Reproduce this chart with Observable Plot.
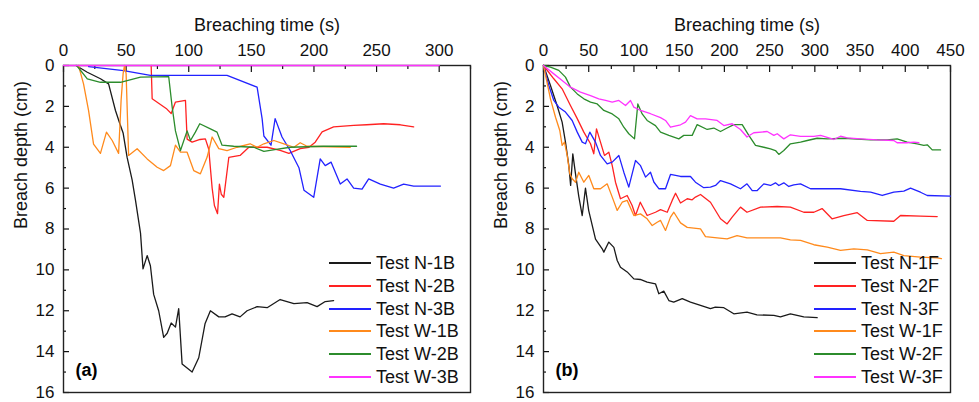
<!DOCTYPE html>
<html>
<head>
<meta charset="utf-8">
<script src="https://cdn.jsdelivr.net/npm/d3@7"></script>
<script src="https://cdn.jsdelivr.net/npm/@observablehq/plot@0.6"></script>
<style>
  html, body { margin: 0; padding: 0; background: #fff; }
  #wrap { position: relative; width: 979px; height: 402px; font-family: "Liberation Sans", Arial, sans-serif; }
  .panel { position: absolute; top: 0; }
  .leg { position: absolute; display: flex; align-items: center; height: 22px; font-size: 18px; color: #111; white-space: nowrap; }
  .leg span.sw { display: inline-block; width: 42px; height: 2px; margin-right: 5px; }
</style>
</head>
<body>
<div id="wrap"></div>
<script>
// ---------- Panel (a): breach tests, [time (s), depth (cm)] ----------
const N1B = [[10,0],[19,0.33],[29.5,0.65],[36,0.9],[41.5,2.2],[45,2.85],[47.6,3.3],[50.8,4.5],[54.8,5.6],[57.5,6.6],[60,7.6],[61.5,8.2],[63.5,9.95],[66.8,9.3],[69.4,9.8],[72,11.2],[76,12],[80,13.3],[82.8,13.1],[86,12.6],[89.4,12.8],[92,11.9],[93.5,13.4],[94.7,14.6],[98.7,14.8],[102.7,15.0],[108,14.3],[113,12.64],[117.3,12.0],[124,12.3],[129,12.3],[134.6,12.15],[141,12.3],[146.6,12.0],[154.6,11.8],[162.6,11.85],[173,11.45],[184,11.65],[194.5,11.6],[202.5,11.8],[209,11.55],[215.7,11.5]];
const N2B = [[70,0],[70.8,1.63],[82,2.1],[86,2.35],[89.4,1.79],[97.4,1.71],[98.7,3.6],[102.7,3.75],[109,3.62],[113.3,3.59],[116,4.1],[118.7,6.0],[120.5,6.85],[123,7.25],[124.5,5.8],[126,6.3],[128,6.45],[132,4.5],[141,4.4],[148,4.0],[154.6,4.0],[162.6,4.0],[173,4.15],[180,4.3],[189,4.07],[196,4.0],[201,3.75],[206.5,3.25],[215.7,3.0],[231.7,2.93],[242,2.9],[255.6,2.85],[269,2.9],[279.6,3.0]];
const N3B = [[20,0.05],[48,0.25],[69.4,0.48],[130.6,0.48],[154.6,1.06],[158.6,2.6],[160,3.45],[165.7,3.9],[169,2.6],[174.5,3.5],[181,4.16],[188,5.0],[192,6.1],[199.8,6.45],[205,4.57],[209,4.9],[213.7,4.73],[221,5.8],[226.4,5.55],[231.7,6.0],[238.4,6.05],[243.7,5.55],[253,5.8],[263.6,6.0],[271.6,5.8],[279.6,5.9],[301,5.9]];
const W1B = [[12,0],[16,0.9],[20,2.2],[24,3.85],[29.5,4.3],[34.3,3.26],[38.9,3.67],[44,4.3],[46,1.7],[47.6,0.4],[48.7,0.0],[50,0.4],[52,4.4],[58.8,4.07],[66.8,4.57],[74.8,4.98],[80,5.14],[85.4,4.9],[89.4,3.9],[93.4,4.24],[98.7,4.24],[104,5.14],[109.3,5.3],[114.7,4.48],[118.7,3.5],[124,4.07],[130.6,4.16],[138.6,4.0],[149,3.83],[154.6,4.0],[160,3.83],[168,3.67],[176,3.83],[184,4.0],[189,3.78],[194.5,3.95],[229,4.0]];
const W2B = [[10.5,0],[19,0.65],[29.5,0.82],[45.5,0.82],[61.5,0.57],[84,0.54],[86.7,2.0],[89.4,3.2],[93.4,4.16],[98.7,3.2],[101.4,3.67],[105.3,3.26],[108.8,2.85],[117.3,3.1],[122.6,3.26],[126.6,3.9],[135.9,3.95],[151.9,4.0],[160,4.2],[170,4.1],[181,4.0],[207.7,3.95],[234,3.95]];
const W3B = [[0,0],[300,0]];

// ---------- Panel (b): breach tests, [time (s), depth (cm)] ----------
const N1F = [[0,0],[7.7,0.98],[15,1.96],[20.6,2.77],[24.3,3.75],[28,4.9],[30,5.87],[32.4,4.32],[35.4,5.3],[39,6.4],[42.8,7.34],[46.4,6.0],[50,7.1],[57.5,8.5],[64.9,8.97],[66.7,9.13],[72.2,8.64],[77.8,8.9],[81.5,9.54],[85.1,9.87],[92.5,10.1],[99.9,10.44],[107,10.47],[114.6,10.6],[123.8,10.68],[127.5,11.17],[133,11.04],[138.6,11.5],[144,11.58],[153.4,11.41],[162.5,11.58],[173.6,11.74],[184.6,11.9],[190,11.82],[199.4,11.85],[210.4,12.15],[225,12.07],[236,12.2],[254.7,12.23],[262,12.3],[273,12.15],[287.8,12.3],[302.6,12.34]];
const N2F = [[0,0],[11.4,0.65],[20.6,1.14],[29.8,1.96],[37.3,2.6],[44.6,3.26],[52,3.83],[55.6,4.32],[58.6,3.1],[63,3.75],[67.4,4.4],[72.2,4.24],[76,4.9],[79.6,5.71],[85.1,6.52],[92.5,6.36],[98,6.85],[101.7,7.34],[107,6.69],[114.6,7.34],[123.8,7.18],[129.4,7.05],[136.8,7.18],[142.3,6.6],[146,6.25],[151.5,6.73],[158.9,6.52],[164.4,6.57],[168,6.44],[173.6,6.31],[184.6,6.69],[195.7,7.5],[203,7.75],[208.6,7.42],[217.8,6.93],[225,7.18],[240,6.93],[258.4,6.9],[273,6.93],[287.8,7.18],[298.9,7.18],[308,7.0],[319,7.5],[332,7.34],[346.9,7.2],[358,7.58],[387.3,7.62],[394.7,7.34],[416.8,7.37],[435.3,7.39]];
const N3F = [[0,0],[5.9,0.98],[11.4,1.71],[16.9,2.04],[24.3,2.28],[31.7,2.69],[37.3,3.26],[42.8,3.75],[46.4,3.83],[51.2,3.26],[57.5,3.75],[63,4.4],[70.4,4.81],[76,4.73],[83.3,4.4],[88.8,5.22],[94.3,5.95],[101.7,4.65],[107.3,4.9],[112.8,5.46],[118.3,5.22],[122,5.7],[127.5,6.03],[134.9,6.03],[140.4,5.33],[146,5.38],[151.5,5.43],[162.5,5.43],[168,5.71],[177.2,5.98],[184.6,5.95],[190.2,5.87],[195.7,5.63],[206.8,5.79],[217.8,6.03],[225,5.79],[230.8,6.12],[236.3,6.12],[243.6,5.79],[251,5.87],[256.5,5.74],[260.2,5.87],[265.7,5.74],[271.2,5.92],[276.7,5.84],[284.2,5.79],[295.2,6.03],[313.7,6.03],[328.4,6.03],[350.5,6.16],[361.6,6.2],[374.5,6.36],[387.3,6.2],[398.4,6.15],[405.8,6.0],[416.8,6.2],[424.3,6.36],[450,6.39]];
const W1F = [[0,0],[7.7,1.63],[13.3,2.53],[18,3.18],[20.6,3.91],[23.2,3.75],[26.2,4.4],[29.1,5.3],[31.7,5.54],[35.4,5.71],[39,5.22],[44.6,5.71],[50.1,5.38],[55.6,6.03],[63,6.03],[70.4,5.79],[76,6.44],[81.5,7.09],[87,6.69],[92.5,6.6],[99.9,7.34],[107.2,7.26],[114.6,7.5],[120.2,7.83],[125.7,7.67],[129.4,7.58],[134.9,8.07],[140.4,7.42],[144.1,7.18],[151.5,7.7],[158.9,7.92],[173.6,7.99],[179.1,8.37],[192,8.43],[203,8.48],[214,8.32],[225,8.43],[262,8.43],[273,8.53],[284.2,8.56],[298.9,8.77],[313.7,8.89],[328.4,9.05],[343.1,8.97],[358,9.02],[372.6,9.21],[387.3,9.13],[398.4,9.3],[416.8,9.38],[435.3,9.41],[440,9.45]];
const W2F = [[0,0],[7.7,0.08],[16.9,0.24],[24.3,0.57],[29.8,1.06],[37.3,1.39],[44.6,1.63],[52,1.79],[59.4,1.88],[66.7,2.2],[76,2.37],[83.3,2.61],[88.8,3.02],[94.3,3.34],[100.6,3.59],[104.3,1.88],[109.1,2.37],[114.6,2.69],[123.8,2.94],[129.4,3.26],[138.6,3.42],[149.6,3.59],[155.1,3.42],[164.4,3.42],[169.9,2.89],[181,3.13],[188.3,3.06],[195.7,3.23],[203,3.06],[210.4,2.89],[219.7,2.89],[227,3.42],[234.4,3.91],[243.6,4.0],[251,4.08],[256.5,4.16],[260.2,4.35],[265.7,4.16],[273,3.83],[284.2,3.75],[291.6,3.67],[302.6,3.56],[313.7,3.59],[332,3.56],[361.6,3.64],[380,3.64],[391,3.59],[402.1,3.75],[413.2,3.83],[420.5,3.91],[424.3,3.88],[429.8,4.13],[439,4.13]];
const W3F = [[0,0],[11.4,0.41],[20.6,0.73],[29.8,1.06],[40.9,1.3],[52,1.47],[61.1,1.63],[68.6,1.71],[76,1.79],[83.3,1.71],[90.7,1.96],[96.2,1.71],[99.9,2.04],[107.3,2.2],[118.3,2.36],[129.4,2.55],[134.9,2.69],[140.4,3.02],[151.5,2.9],[157,2.77],[162.5,2.45],[169.9,2.61],[179.1,2.61],[192,2.69],[199.4,2.94],[208.6,2.85],[217.8,3.13],[225,3.5],[232.5,3.29],[247.3,3.23],[254.7,3.42],[258.4,3.34],[265.7,3.59],[273,3.39],[284.2,3.47],[298.9,3.47],[306.3,3.42],[321,3.62],[328.4,3.46],[335.8,3.54],[350.5,3.59],[369,3.64],[387.3,3.67],[391,3.78],[402.1,3.78],[409.5,3.75],[415,3.78]];

const namesA = ["Test N-1B","Test N-2B","Test N-3B","Test W-1B","Test W-2B","Test W-3B"];
const namesB = ["Test N-1F","Test N-2F","Test N-3F","Test W-1F","Test W-2F","Test W-3F"];
const colors = ["#1a1a1a","#ff2222","#2222ff","#ff8a1c","#2c8c2c","#ff33ff"];

const xTicksA = [0,50,100,150,200,250,300];
const xMinorA = [25,75,125,175,225,275,325];
const xTicksB = [0,50,100,150,200,250,300,350,400,450];
const xMinorB = [25,75,125,175,225,275,325,375,425];
const yTicks = [0,2,4,6,8,10,12,14,16];
const yMinor = [1,3,5,7,9,11,13,15];

const xTitle = "Breaching time (s)";
const yTitle = "Breach depth (cm)";

function rows(pairs) { return pairs.map(([t, d]) => ({t, d})); }

function panel({series, xMax, xTicks, xMinor, tag, width, ml, mr}) {
  const marks = [
    Plot.axisX(xMinor, {anchor: "top", tickSize: -3, tickFormat: () => "", strokeWidth: 1.2, label: null}),
    Plot.axisX(xTicks, {anchor: "top", tickSize: -6, tickPadding: 16, strokeWidth: 1.2, fontSize: 17, label: null}),
    Plot.axisY(yMinor, {anchor: "left", tickSize: -3, tickFormat: () => "", strokeWidth: 1.2, label: null}),
    Plot.axisY(yTicks, {anchor: "left", tickSize: -6, tickPadding: 15, strokeWidth: 1.2, fontSize: 17, label: null}),
    Plot.frame({stroke: "#222", strokeWidth: 1.4}),
    ...series.map((s, i) => Plot.line(rows(s), {x: "t", y: "d", stroke: colors[i], strokeWidth: 1.3})),
    Plot.text([xTitle], {frameAnchor: "top", dy: -47, fontSize: 18, fill: "#111"}),
    Plot.text([yTitle], {frameAnchor: "left", rotate: -90, dx: -42, fontSize: 18, fill: "#111"}),
    Plot.text([tag], {frameAnchor: "bottom-left", dx: 12, dy: -17, textAnchor: "start", fontWeight: "bold", fontSize: 18, fill: "#000"})
  ];
  return Plot.plot({
    width, height: 402,
    marginTop: 65, marginBottom: 10, marginLeft: ml, marginRight: mr,
    x: {domain: [0, xMax]},
    y: {domain: [0, 16], reverse: true},
    style: {fontFamily: "'Liberation Sans', Arial, sans-serif", color: "#111", background: "transparent", overflow: "visible"},
    marks
  });
}

const wrap = document.getElementById("wrap");

const a = panel({series: [N1B, N2B, N3B, W1B, W2B, W3B], xMax: 325, xTicks: xTicksA, xMinor: xMinorA, tag: "(a)", width: 489, ml: 63, mr: 19});
a.classList.add("panel"); a.style.left = "0px";
wrap.appendChild(a);

const b = panel({series: [N1F, N2F, N3F, W1F, W2F, W3F], xMax: 450, xTicks: xTicksB, xMinor: xMinorB, tag: "(b)", width: 490, ml: 54, mr: 29});
b.classList.add("panel"); b.style.left = "489px";
wrap.appendChild(b);

function legend(names, left) {
  names.forEach((n, i) => {
    const d = document.createElement("div");
    d.className = "leg";
    d.style.left = left + "px";
    d.style.top = Math.round(263 + i * 22.8 - 11) + "px";
    const sw = document.createElement("span");
    sw.className = "sw";
    sw.style.background = colors[i];
    d.appendChild(sw);
    d.appendChild(document.createTextNode(n));
    wrap.appendChild(d);
  });
}
legend(namesA, 329);
legend(namesB, 814);
</script>
</body>
</html>
